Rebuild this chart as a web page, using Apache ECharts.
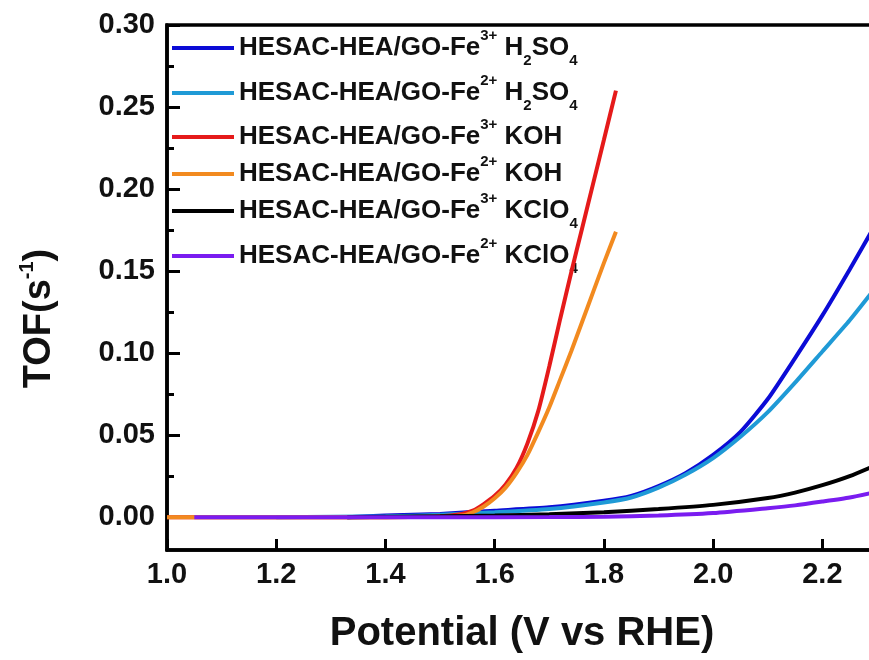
<!DOCTYPE html>
<html>
<head>
<meta charset="utf-8">
<script src="https://cdn.jsdelivr.net/npm/echarts@6/dist/echarts.min.js"></script>
<style>
html,body{margin:0;padding:0;background:#fff;}
#chart{width:869px;height:660px;}
</style>
</head>
<body>
<div id="chart"></div>
<script>
// ---- data ----
const seriesNames = [
  'HESAC-HEA/GO-Fe3+ H2SO4',
  'HESAC-HEA/GO-Fe2+ H2SO4',
  'HESAC-HEA/GO-Fe3+ KOH',
  'HESAC-HEA/GO-Fe2+ KOH',
  'HESAC-HEA/GO-Fe3+ KClO4',
  'HESAC-HEA/GO-Fe2+ KClO4'
];
const legendLabels = [
  'HESAC-HEA/GO-Fe{sup|3+} H{sub|2}SO{sub|4}',
  'HESAC-HEA/GO-Fe{sup|2+} H{sub|2}SO{sub|4}',
  'HESAC-HEA/GO-Fe{sup|3+} KOH',
  'HESAC-HEA/GO-Fe{sup|2+} KOH',
  'HESAC-HEA/GO-Fe{sup|3+} KClO{sub|4}',
  'HESAC-HEA/GO-Fe{sup|2+} KClO{sub|4}'
];
const colors = ['#0b0bd6', '#1f9ad6', '#e51a1a', '#f28a1f', '#000000', '#7a1cf0'];

const xFe3H2SO4 = [1.33,1.4,1.5,1.6,1.7,1.8,1.85,1.9,1.95,2.0,2.05,2.1,2.15,2.2,2.25,2.3];
const yFe3H2SO4 = [0,0.001,0.002,0.004,0.006,0.010,0.013,0.019,0.027,0.038,0.052,0.072,0.097,0.123,0.151,0.180];

const xFe2H2SO4 = [1.2,1.4,1.5,1.6,1.7,1.8,1.85,1.9,1.95,2.0,2.05,2.1,2.15,2.2,2.25,2.3];
const yFe2H2SO4 = [0,0.0005,0.0015,0.003,0.005,0.009,0.012,0.018,0.026,0.036,0.049,0.064,0.082,0.101,0.120,0.141];

const xFe3KOH = [1.0,1.2,1.4,1.5,1.54,1.56,1.58,1.60,1.62,1.64,1.66,1.68,1.70,1.72,1.74,1.76,1.78,1.80,1.822];
const yFe3KOH = [0,0,0,0.0005,0.002,0.004,0.008,0.013,0.020,0.030,0.045,0.065,0.092,0.121,0.149,0.176,0.203,0.230,0.260];

const xFe2KOH = [1.0,1.2,1.4,1.5,1.54,1.56,1.58,1.60,1.62,1.64,1.66,1.68,1.70,1.72,1.74,1.76,1.78,1.80,1.822];
const yFe2KOH = [0,0,0,0.0003,0.001,0.003,0.0065,0.0115,0.018,0.027,0.038,0.052,0.067,0.084,0.101,0.119,0.137,0.155,0.174];

const xFe3KClO4 = [1.33,1.5,1.6,1.7,1.8,1.9,2.0,2.1,2.15,2.2,2.25,2.3];
const yFe3KClO4 = [0,0.0005,0.001,0.0018,0.003,0.005,0.0075,0.0117,0.015,0.0195,0.025,0.032];

const xFe2KClO4 = [1.05,1.3,1.5,1.7,1.8,1.9,2.0,2.1,2.15,2.2,2.25,2.3];
const yFe2KClO4 = [0,0,0,0.0001,0.0003,0.001,0.0025,0.0055,0.0072,0.0095,0.012,0.0155];

const yMajorTicks = [0,0.05,0.10,0.15,0.20,0.25,0.30];
const yMinorTicks = [0.025,0.075,0.125,0.175,0.225,0.275];

const xSets = [xFe3H2SO4, xFe2H2SO4, xFe3KOH, xFe2KOH, xFe3KClO4, xFe2KClO4];
const ySets = [yFe3H2SO4, yFe2H2SO4, yFe3KOH, yFe2KOH, yFe3KClO4, yFe2KClO4];

// ---- chart ----
const FONT = '"Liberation Sans", Arial, sans-serif';
const chart = echarts.init(document.getElementById('chart'), null, {renderer: 'canvas'});

const legendTops = [28, 73, 117, 154, 191, 236];
const legends = seriesNames.map((n, i) => ({
  data: [n],
  left: 172,
  top: legendTops[i],
  padding: 0,
  orient: 'vertical',
  icon: 'rect',
  itemWidth: 62,
  itemHeight: 4,
  selectedMode: false,
  formatter: function (name) { return legendLabels[seriesNames.indexOf(name)]; },
  textStyle: {
    fontFamily: FONT, fontSize: 26, fontWeight: 'bold', color: '#111', lineHeight: 40,
    rich: {
      sup: {fontFamily: FONT, fontSize: 15, fontWeight: 'bold', color: '#111', lineHeight: 24, verticalAlign: 'top'},
      sub: {fontFamily: FONT, fontSize: 15, fontWeight: 'bold', color: '#111', lineHeight: 16, verticalAlign: 'bottom'}
    }
  }
}));

const series = seriesNames.map((n, i) => ({
  name: n,
  type: 'line',
  data: xSets[i].map((x, k) => [x, ySets[i][k]]),
  showSymbol: false,
  symbol: 'none',
  smooth: 0.2,
  clip: true,
  itemStyle: {color: colors[i]},
  lineStyle: {color: colors[i], width: 4},
  z: 2 + i
}));

const option = {
  backgroundColor: '#ffffff',
  animation: false,
  grid: {left: 167, top: 25, right: -8, bottom: 110, show: true, borderColor: '#000', borderWidth: 3.5, containLabel: false, outerBoundsMode: 'none'},
  legend: legends,
  xAxis: {
    type: 'value', min: 1.0, max: 2.3, interval: 0.2,
    name: 'Potential (V vs RHE)', nameLocation: 'middle', nameGap: 64,
    nameTextStyle: {fontFamily: FONT, fontSize: 40, fontWeight: 'bold', color: '#111'},
    axisLine: {show: true, onZero: false, lineStyle: {color: '#000', width: 3.5}},
    axisTick: {show: true, inside: true, length: 11, lineStyle: {color: '#000', width: 3}},
    axisLabel: {fontFamily: FONT, fontSize: 29, fontWeight: 'bold', color: '#111', margin: 10,
      showMaxLabel: false, formatter: v => v.toFixed(1)},
    splitLine: {show: false}
  },
  yAxis: [
    {
      type: 'value', min: -0.02, max: 0.30, position: 'left',
      name: 'TOF(s{sup|-1})', nameLocation: 'middle', nameGap: 104, nameRotate: 90,
      nameTextStyle: {fontFamily: FONT, fontSize: 38, fontWeight: 'bold', color: '#111', lineHeight: 46,
        padding: [0, 62, 0, 0],
        rich: {sup: {fontFamily: FONT, fontSize: 20, fontWeight: 'bold', color: '#111', lineHeight: 26, verticalAlign: 'top'}}},
      axisLine: {show: true, onZero: false, lineStyle: {color: '#000', width: 3.5}},
      axisTick: {show: true, inside: true, length: 13, customValues: yMajorTicks, lineStyle: {color: '#000', width: 3}},
      axisLabel: {fontFamily: FONT, fontSize: 29, fontWeight: 'bold', color: '#111', margin: 12,
        customValues: yMajorTicks, formatter: v => v.toFixed(2)},
      splitLine: {show: false}
    },
    {
      type: 'value', min: -0.02, max: 0.30, position: 'left', offset: 0,
      axisLine: {show: false},
      axisTick: {show: true, inside: true, length: 7, customValues: yMinorTicks, lineStyle: {color: '#000', width: 3}},
      axisLabel: {show: false},
      splitLine: {show: false}
    }
  ],
  series: series
};
chart.setOption(option);
</script>
</body>
</html>
